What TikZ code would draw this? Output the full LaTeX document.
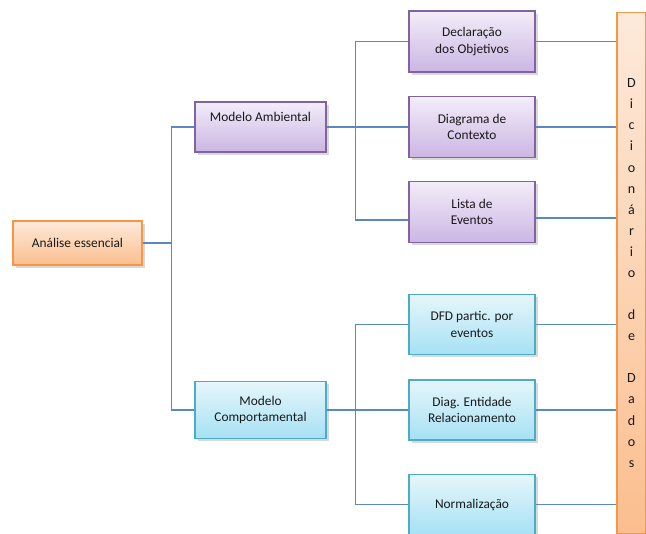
\documentclass[tikz,border=0pt]{standalone}
\usepackage{fontspec}
\setmainfont{Carlito}
\usetikzlibrary{shadows}

\definecolor{linha}{HTML}{5B88C4}
\definecolor{roxoborda}{HTML}{8064A2}
\definecolor{roxotopo}{HTML}{F3EDF9}
\definecolor{roxobase}{HTML}{CBB6E3}
\definecolor{azulborda}{HTML}{4BACC6}
\definecolor{azultopo}{HTML}{E6F6FB}
\definecolor{azulbase}{HTML}{A6E1F4}
\definecolor{laranjaborda}{HTML}{F79646}
\definecolor{laranjatopo}{HTML}{FDEADB}
\definecolor{laranjabase}{HTML}{FBBE8E}

\begin{document}
\begin{tikzpicture}[x=0.02cm, y=-0.02cm,
      every node/.style={
        align=center,
        text=black!90,
        inner sep=1pt,
        font=\fontsize{7.6}{9.4}\selectfont  % texto pequeno como no original
      },
      caixa/.style={
        draw, rectangle, line width=0.6pt,
        drop shadow={shadow xshift=1.5pt, shadow yshift=-1.5pt, opacity=0.3}
      },
      roxo/.style={caixa, draw=roxoborda, top color=roxotopo, bottom color=roxobase,
        minimum width=2.52cm, minimum height=1.22cm},
      azul/.style={caixa, draw=azulborda, top color=azultopo, bottom color=azulbase,
        minimum width=2.52cm, minimum height=1.2cm},
      laranja/.style={caixa, draw=laranjaborda, top color=laranjatopo, bottom color=laranjabase},
      liga/.style={draw=linha, line width=0.6pt}
    ]
      \useasboundingbox (0,0) rectangle (646,534);

      % raiz
      \node[laranja, minimum width=2.58cm, minimum height=0.88cm] (ana) at (77.5,243) {Análise essencial};

      % modelos
      \node[roxo, minimum width=2.62cm, minimum height=1cm] (amb) at (260.5,127) {Modelo Ambiental\\[2pt]};
      \node[azul, minimum width=2.62cm, minimum height=1.14cm] (comp) at (260.5,410) {Modelo\\Comportamental};

      % ambiental
      \node[roxo] (obj) at (472,41.5) {Declaração\\dos Objetivos};
      \node[roxo] (ctx) at (472,127) {Diagrama de\\Contexto};
      \node[roxo] (ev) at (472,212) {Lista de\\Eventos};

      % comportamental
      \node[azul] (dfd) at (472,324.5) {DFD partic. por\\eventos};
      \node[azul] (der) at (472,410) {Diag. Entidade\\Relacionamento};
      \node[azul] (norm) at (472,504.5) {Normalização};

      % dicionario
      \node[laranja, minimum width=0.58cm, minimum height=10.44cm, inner sep=0pt,
        font=\fontsize{8}{12}\selectfont] (dic) at (631.5,273)
        {D\\i\\c\\i\\o\\n\\á\\r\\i\\o\\ \\d\\e\\ \\D\\a\\d\\o\\s};

      \path (ana.east) ++(29,0) coordinate (j1);
      \path (amb.east) ++(29,0) coordinate (j2);
      \path (comp.east) ++(29,0) coordinate (j3);

      \draw[liga] (ana.east) -- (j1);
      \draw[liga] (j1) |- (amb.west);
      \draw[liga] (j1) |- (comp.west);

      \draw[liga] (amb.east) -- (j2);
      \draw[liga] (j2) |- (obj.west);
      \draw[liga] (j2) -- (ctx.west);
      \draw[liga] (j2) |- ([yshift=-0.16cm]ev.west);

      \draw[liga] (comp.east) -- (j3);
      \draw[liga] (j3) |- (dfd.west);
      \draw[liga] (j3) -- (der.west);
      \draw[liga] (j3) |- (norm.west);

      \draw[liga] (obj.east) -- (obj.east -| dic.west);
      \draw[liga] (ctx.east) -- (ctx.east -| dic.west);
      \draw[liga] ([yshift=-0.12cm]ev.east) -- ([yshift=-0.12cm]ev.east -| dic.west);
      \draw[liga] (dfd.east) -- (dfd.east -| dic.west);
      \draw[liga] (der.east) -- (der.east -| dic.west);
      \draw[liga] (norm.east) -- (norm.east -| dic.west);
    \end{tikzpicture}
\end{document}
